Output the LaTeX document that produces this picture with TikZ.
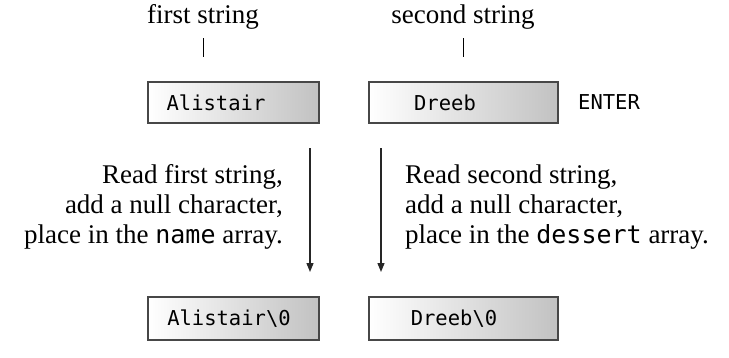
\documentclass[tikz,border=0pt]{standalone}
\usepackage{fontspec}
\setmainfont{Liberation Serif}
\setmonofont{DejaVu Sans Mono}
\usetikzlibrary{arrows.meta}
\newcommand{\codeword}[1]{{\fontsize{25}{30}\ttfamily\selectfont #1}}
\begin{document}
\begin{tikzpicture}[x=1pt,y=-1pt,
  strbox/.style={draw=black!72, line width=2pt, left color=white, right color=black!24,
    minimum width=171pt, minimum height=41pt, inner sep=0pt},
  monotxt/.style={font=\fontsize{20.5}{20}\ttfamily\selectfont, inner sep=0pt},
  sertxt/.style={font=\fontsize{27}{30}\selectfont, inner sep=0pt},
  tick/.style={line width=1pt, black},
  flow/.style={line width=1.3pt, black!85, -{Triangle[length=9pt,width=7pt]}}]
\useasboundingbox (0,0) rectangle (729,357);
% titles
\node[sertxt, anchor=base] (t1) at (203,23) {first string};
\node[sertxt, anchor=base] (t2) at (463,23) {second string};
\coordinate (k1a) at (203,38); \coordinate (k1b) at (203,57);
\coordinate (k2a) at (463,38); \coordinate (k2b) at (463,57);
\draw[tick] (k1a) -- (k1b);
\draw[tick] (k2a) -- (k2b);
% top boxes
\node[strbox] (b1) at (233.5,102.5) {};
\node[strbox, minimum width=189pt] (b2) at (463.5,102.5) {};
\node[monotxt] (l1) at (216,102.5) {Alistair};
\node[monotxt] (l2) at (445,102.5) {Dreeb};
\node[monotxt, anchor=west] (enter) at (578,102.5) {ENTER};
% arrows
\coordinate (a1s) at (310,148); \coordinate (a1e) at (310,272);
\coordinate (a2s) at (381,148); \coordinate (a2e) at (381,272);
\draw[flow] (a1s) -- (a1e);
\draw[flow] (a2s) -- (a2e);
% descriptions
\node[sertxt, anchor=base east, align=right] (d1) at (283,243)
  {Read first string,\\add a null character,\\place in the \codeword{name} array.};
\node[sertxt, anchor=base west, align=left] (d2) at (405,243)
  {Read second string,\\add a null character,\\place in the \codeword{dessert} array.};
% bottom boxes
\node[strbox, minimum height=43pt] (b3) at (233.5,318.5) {};
\node[strbox, minimum width=189pt, minimum height=43pt] (b4) at (463.5,318.5) {};
\node[monotxt] (l3) at (229,318.5) {Alistair\textbackslash 0};
\node[monotxt] (l4) at (454,318.5) {Dreeb\textbackslash 0};
\end{tikzpicture}
\end{document}
